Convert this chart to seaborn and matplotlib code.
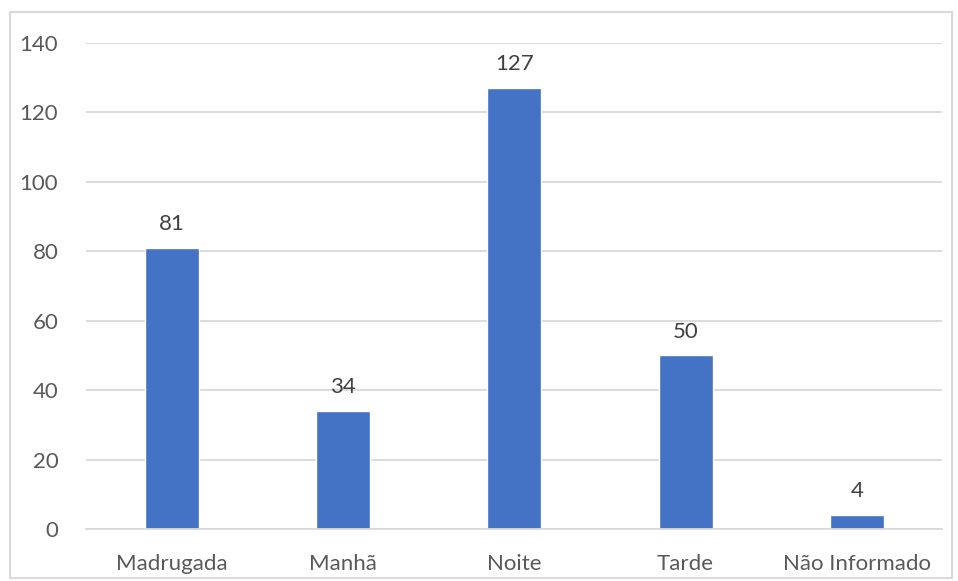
import matplotlib
matplotlib.use('Agg')
import matplotlib.pyplot as plt
import seaborn as sns
import pandas as pd
from matplotlib.patches import Rectangle

periodos = ['Madrugada', 'Manhã', 'Noite', 'Tarde', 'Não Informado']
quantidade = [81, 34, 127, 50, 4]
yticks = [0, 20, 40, 60, 80, 100, 120, 140]

df = pd.DataFrame({'periodo': periodos, 'qtd': quantidade})

sns.set_style('white')
plt.rcParams['font.family'] = ['Lato', 'DejaVu Sans']

fig = plt.figure(figsize=(9.58, 5.81), dpi=100)
ax = fig.add_axes([0.0898, 0.0895, 0.894, 0.8365])

sns.barplot(data=df, x='periodo', y='qtd', color='#4472C4', width=0.315,
            saturation=1, ax=ax, zorder=3)

for i, v in enumerate(quantidade):
    ax.text(i, v + 4, str(v), ha='center', va='bottom', fontsize=16, color='#404040')

ax.set_ylim(0, 140)
ax.set_yticks(yticks)
ax.set_xlim(-0.5, len(periodos) - 0.5)
ax.grid(axis='y', color='#d9d9d9', linewidth=1.3, zorder=0)
ax.grid(axis='x', visible=False)
for s in ['top', 'right', 'left']:
    ax.spines[s].set_visible(False)
ax.spines['bottom'].set_color('#d9d9d9')
ax.spines['bottom'].set_linewidth(1.3)
ax.spines['bottom'].set_zorder(4)
ax.set_xlabel('')
ax.set_ylabel('')
ax.tick_params(axis='both', length=0, labelsize=16, labelcolor='#595959')
ax.tick_params(axis='y', pad=20)
ax.tick_params(axis='x', pad=18)

fig.patches.append(Rectangle((10 / 958, 3 / 581), 942 / 958, 566 / 581,
                             transform=fig.transFigure, fill=False,
                             edgecolor='#d9d9d9', linewidth=1.5))

fig.savefig('out.png', dpi=100)
